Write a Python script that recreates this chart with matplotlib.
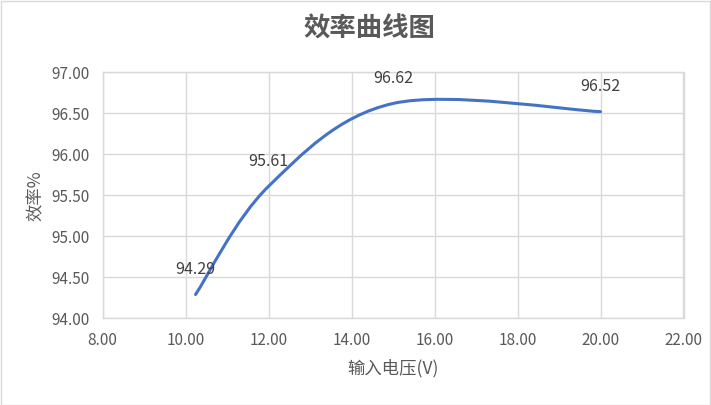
import matplotlib
matplotlib.use("Agg")
import matplotlib.pyplot as plt
from matplotlib.path import Path
from matplotlib.patches import PathPatch, Rectangle
import numpy as np

plt.rcParams['font.family'] = ['Noto Sans CJK SC', 'DejaVu Sans']

# Data
voltage = [10.24, 12.0, 15.0, 20.0]
efficiency = [94.29, 95.61, 96.62, 96.52]
labels = ["94.29", "95.61", "96.62", "96.52"]
title = "效率曲线图"
xlabel = "输入电压(V)"
ylabel = "效率%"
xticks = [8, 10, 12, 14, 16, 18, 20, 22]
yticks = [94.0, 94.5, 95.0, 95.5, 96.0, 96.5, 97.0]

W, H = 711, 405
fig = plt.figure(figsize=(W / 100, H / 100), dpi=100)
fig.subplots_adjust(left=102.6 / W, right=683.5 / W, top=1 - 72.3 / H, bottom=1 - 318.3 / H)
ax = fig.add_subplot(111)

grey = '#d9d9d9'
txt = '#595959'

# Excel-style smoothed line (cubic Bezier, Catmull-Rom control points)
pts = np.column_stack([voltage, efficiency])
n = len(pts)
verts = [tuple(pts[0])]
codes = [Path.MOVETO]
for i in range(n - 1):
    p0 = pts[max(i - 1, 0)]
    p1 = pts[i]
    p2 = pts[i + 1]
    p3 = pts[min(i + 2, n - 1)]
    c1 = p1 + (p2 - p0) / 6.0
    c2 = p2 - (p3 - p1) / 6.0
    verts += [tuple(c1), tuple(c2), tuple(p2)]
    codes += [Path.CURVE4] * 3
path = Path(verts, codes)
ax.add_patch(PathPatch(path, facecolor='none', edgecolor='#4472C4', lw=2.2,
                       capstyle='round', joinstyle='round', zorder=3))

for x, y, s in zip(voltage, efficiency, labels):
    ax.annotate(s, (x, y), xytext=(0, 18), textcoords='offset points',
                ha='center', va='center', fontsize=11.5, color='#404040', zorder=4)

ax.set_xlim(8, 22)
ax.set_ylim(94, 97)
ax.set_xticks(xticks)
ax.set_xticklabels([f"{v:.2f}" for v in xticks])
ax.set_yticks(yticks)
ax.set_yticklabels([f"{v:.2f}" for v in yticks])
ax.grid(True, color=grey, lw=1)
ax.set_axisbelow(True)
for sp in ax.spines.values():
    sp.set_color(grey)
    sp.set_linewidth(1)
ax.tick_params(length=0, labelsize=11, colors=txt, pad=9)
ax.tick_params(axis='x', pad=10)

ax.set_xlabel(xlabel, fontsize=12.5, color=txt, labelpad=7)
ax.set_ylabel(ylabel, fontsize=12.5, color=txt, labelpad=5)

fig.text(0.52, 1 - 29 / H, title, ha='center', va='center', fontsize=19,
         fontweight='bold', color=txt)

fig.patches.append(Rectangle((0.5 / W, 0.5 / H), 1 - 1.5 / W, 1 - 1.5 / H,
                             transform=fig.transFigure, fill=False,
                             edgecolor=grey, lw=1))

fig.savefig("out.png", dpi=100)
